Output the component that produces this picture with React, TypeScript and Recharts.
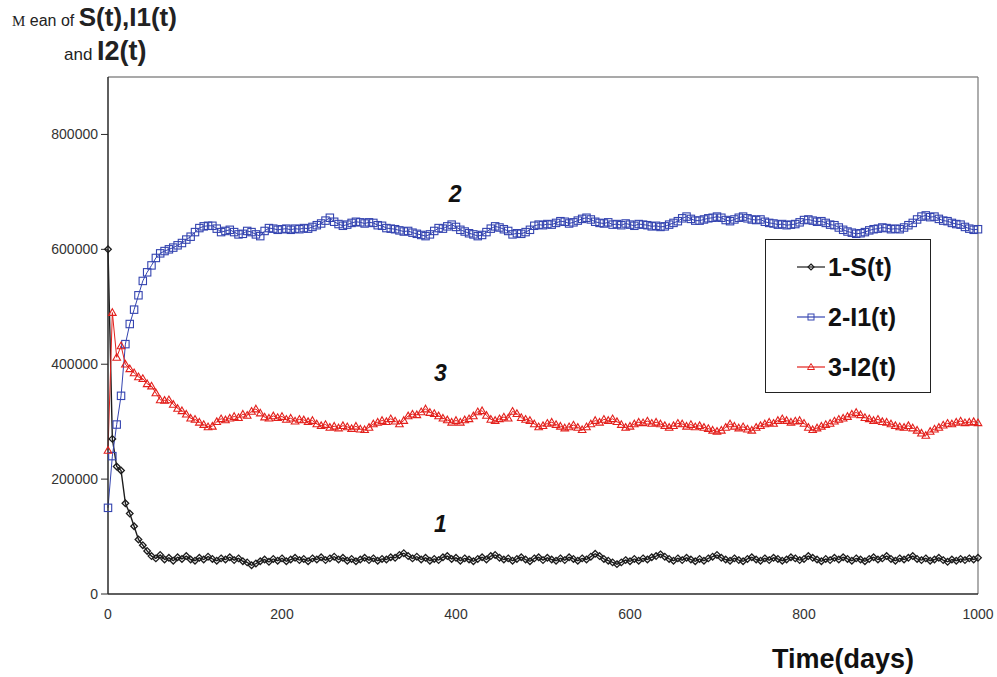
import React from 'react';
import { LineChart, Line, XAxis, YAxis, Legend, ReferenceLine, ReferenceDot } from 'recharts';

// Time (days)
const days = [
  0, 5, 10, 15, 20, 25, 30, 35, 40, 45, 50, 55, 60, 65, 70, 75, 80, 85, 90, 95,
  100, 105, 110, 115, 120, 125, 130, 135, 140, 145, 150, 155, 160, 165, 170, 175, 180, 185, 190, 195,
  200, 205, 210, 215, 220, 225, 230, 235, 240, 245, 250, 255, 260, 265, 270, 275, 280, 285, 290, 295,
  300, 305, 310, 315, 320, 325, 330, 335, 340, 345, 350, 355, 360, 365, 370, 375, 380, 385, 390, 395,
  400, 405, 410, 415, 420, 425, 430, 435, 440, 445, 450, 455, 460, 465, 470, 475, 480, 485, 490, 495,
  500, 505, 510, 515, 520, 525, 530, 535, 540, 545, 550, 555, 560, 565, 570, 575, 580, 585, 590, 595,
  600, 605, 610, 615, 620, 625, 630, 635, 640, 645, 650, 655, 660, 665, 670, 675, 680, 685, 690, 695,
  700, 705, 710, 715, 720, 725, 730, 735, 740, 745, 750, 755, 760, 765, 770, 775, 780, 785, 790, 795,
  800, 805, 810, 815, 820, 825, 830, 835, 840, 845, 850, 855, 860, 865, 870, 875, 880, 885, 890, 895,
  900, 905, 910, 915, 920, 925, 930, 935, 940, 945, 950, 955, 960, 965, 970, 975, 980, 985, 990, 995,
  1000,
];

// 1-S(t)
const sValues = [
  600000, 270000, 222000, 215000, 158000, 140000, 118000, 95000, 85000, 75000,
  66000, 62000, 68000, 60000, 63000, 58000, 64000, 61000, 66000, 60000,
  58000, 63000, 60000, 65000, 61000, 58000, 62000, 60000, 64000, 59000,
  62000, 57000, 55000, 50000, 53000, 57000, 60000, 56000, 61000, 58000,
  62000, 57000, 60000, 63000, 59000, 61000, 57000, 62000, 60000, 64000,
  59000, 62000, 65000, 60000, 63000, 58000, 61000, 57000, 60000, 63000,
  59000, 62000, 58000, 61000, 60000, 64000, 63000, 68000, 71000, 66000,
  62000, 65000, 60000, 63000, 58000, 61000, 59000, 64000, 66000, 61000,
  63000, 58000, 62000, 60000, 57000, 61000, 64000, 60000, 66000, 68000,
  63000, 60000, 62000, 58000, 61000, 64000, 60000, 57000, 62000, 64000,
  59000, 63000, 60000, 58000, 62000, 59000, 64000, 61000, 58000, 62000,
  60000, 65000, 70000, 66000, 61000, 58000, 55000, 52000, 55000, 59000,
  57000, 61000, 58000, 62000, 60000, 64000, 66000, 69000, 65000, 61000,
  58000, 62000, 59000, 63000, 60000, 57000, 61000, 58000, 62000, 65000,
  68000, 63000, 60000, 58000, 62000, 59000, 57000, 61000, 64000, 60000,
  58000, 62000, 59000, 63000, 61000, 58000, 60000, 64000, 62000, 59000,
  61000, 66000, 63000, 60000, 57000, 61000, 59000, 63000, 60000, 64000,
  61000, 58000, 62000, 60000, 57000, 61000, 64000, 60000, 62000, 66000,
  61000, 58000, 62000, 60000, 63000, 66000, 61000, 59000, 62000, 58000,
  60000, 63000, 59000, 56000, 60000, 58000, 61000, 59000, 62000, 60000,
  63000,
];

// 2-I1(t)
const i1Values = [
  150000, 240000, 295000, 345000, 435000, 470000, 495000, 520000, 545000, 560000,
  572000, 585000, 593000, 597000, 600000, 603000, 607000, 611000, 617000, 622000,
  630000, 637000, 640000, 641000, 641000, 636000, 630000, 632000, 634000, 630000,
  626000, 627000, 632000, 630000, 626000, 623000, 632000, 637000, 636000, 634000,
  635000, 636000, 634000, 636000, 635000, 637000, 636000, 639000, 642000, 645000,
  650000, 655000, 648000, 644000, 641000, 643000, 646000, 648000, 647000, 645000,
  647000, 646000, 642000, 641000, 637000, 636000, 635000, 633000, 631000, 632000,
  629000, 627000, 625000, 623000, 626000, 632000, 637000, 636000, 640000, 643000,
  639000, 634000, 631000, 628000, 626000, 623000, 625000, 630000, 636000, 640000,
  638000, 635000, 632000, 626000, 628000, 627000, 630000, 634000, 641000, 643000,
  642000, 644000, 643000, 646000, 649000, 648000, 645000, 647000, 650000, 653000,
  655000, 652000, 648000, 646000, 645000, 647000, 643000, 644000, 642000, 645000,
  643000, 641000, 644000, 643000, 642000, 640000, 641000, 639000, 640000, 643000,
  646000, 649000, 654000, 657000, 653000, 650000, 650000, 652000, 654000, 655000,
  657000, 655000, 651000, 649000, 652000, 655000, 657000, 654000, 652000, 651000,
  652000, 648000, 646000, 645000, 643000, 644000, 642000, 643000, 644000, 647000,
  651000, 652000, 650000, 648000, 649000, 646000, 643000, 642000, 638000, 634000,
  631000, 629000, 627000, 628000, 630000, 633000, 635000, 636000, 638000, 637000,
  635000, 636000, 635000, 638000, 642000, 646000, 652000, 657000, 659000, 656000,
  657000, 653000, 650000, 649000, 646000, 644000, 643000, 639000, 636000, 634000,
  635000,
];

// 3-I2(t)
const i2Values = [
  250000, 490000, 412000, 432000, 400000, 392000, 385000, 378000, 375000, 366000,
  362000, 350000, 338000, 337000, 338000, 330000, 323000, 319000, 313000, 306000,
  304000, 299000, 295000, 291000, 292000, 300000, 305000, 303000, 306000, 309000,
  307000, 313000, 311000, 318000, 322000, 315000, 308000, 306000, 310000, 307000,
  309000, 304000, 306000, 301000, 304000, 303000, 300000, 302000, 296000, 293000,
  295000, 290000, 292000, 289000, 293000, 291000, 288000, 292000, 287000, 286000,
  290000, 296000, 299000, 302000, 300000, 305000, 301000, 296000, 302000, 310000,
  313000, 312000, 317000, 322000, 316000, 314000, 310000, 306000, 303000, 299000,
  302000, 299000, 303000, 305000, 310000, 317000, 319000, 311000, 304000, 302000,
  305000, 308000, 306000, 318000, 314000, 307000, 304000, 302000, 296000, 291000,
  293000, 297000, 299000, 295000, 292000, 289000, 291000, 294000, 290000, 286000,
  291000, 296000, 302000, 299000, 304000, 302000, 305000, 300000, 295000, 290000,
  292000, 296000, 299000, 298000, 301000, 297000, 299000, 296000, 293000, 290000,
  293000, 297000, 296000, 292000, 295000, 291000, 293000, 290000, 288000, 285000,
  283000, 285000, 290000, 296000, 292000, 289000, 291000, 287000, 285000, 290000,
  293000, 296000, 299000, 297000, 302000, 305000, 302000, 299000, 301000, 302000,
  297000, 290000, 286000, 289000, 292000, 295000, 297000, 301000, 304000, 306000,
  309000, 313000, 316000, 312000, 307000, 305000, 302000, 304000, 300000, 299000,
  296000, 293000, 291000, 290000, 293000, 289000, 285000, 280000, 276000, 283000,
  287000, 290000, 294000, 297000, 296000, 299000, 301000, 298000, 299000, 300000,
  298000,
];

const xTicks = [0, 200, 400, 600, 800, 1000];
const yTicks = [0, 200000, 400000, 600000, 800000];

const seriesNames = ['1-S(t)', '2-I1(t)', '3-I2(t)'];
const seriesColors = ['#1c1c1c', '#3444b0', '#e3201c'];

// Curve number annotations: [label, day, value]
const annotationLabels = ['2', '3', '1'];
const annotationDays = [399, 382, 382];
const annotationValues = [696000, 385000, 123000];

const rows = days.map((t, i) => ({ t, s: sValues[i], i1: i1Values[i], i2: i2Values[i] }));

const FONT = '"Liberation Sans", Arial, sans-serif';

const diamondDot = (color: string, s: number) => (props: any) => {
  const { cx, cy, index } = props;
  if (cx == null || cy == null) return <g key={index} />;
  return (
    <path
      key={index}
      d={`M${cx},${cy - s}L${cx + s},${cy}L${cx},${cy + s}L${cx - s},${cy}Z`}
      fill="none"
      stroke={color}
      strokeWidth={1.3}
    />
  );
};

const squareDot = (color: string, s: number) => (props: any) => {
  const { cx, cy, index } = props;
  if (cx == null || cy == null) return <g key={index} />;
  return <rect key={index} x={cx - s} y={cy - s} width={2 * s} height={2 * s} fill="none" stroke={color} strokeWidth={1.1} />;
};

const triangleDot = (color: string, s: number) => (props: any) => {
  const { cx, cy, index } = props;
  if (cx == null || cy == null) return <g key={index} />;
  return (
    <path
      key={index}
      d={`M${cx},${cy - s}L${cx + s},${cy + s * 0.75}L${cx - s},${cy + s * 0.75}Z`}
      fill="none"
      stroke={color}
      strokeWidth={1.1}
    />
  );
};

const legendIcon = (i: number) => {
  const c = seriesColors[i];
  const line = <line x1={0} y1={8} x2={28} y2={8} stroke={c} strokeWidth={1.2} />;
  let mark;
  if (i === 0) mark = <path d="M14,5L17,8L14,11L11,8Z" fill="none" stroke={c} strokeWidth={1.2} />;
  else if (i === 1) mark = <rect x={11} y={5} width={6} height={6} fill="none" stroke={c} strokeWidth={1} />;
  else mark = <path d="M14,4.5L17.5,10.5L10.5,10.5Z" fill="none" stroke={c} strokeWidth={1} />;
  return (
    <svg width={28} height={16} style={{ position: 'absolute', left: 31, top: -8 }}>
      {line}
      {mark}
    </svg>
  );
};

const LegendBox = () => (
  <div
    style={{
      position: 'relative',
      width: 166,
      height: 154,
      boxSizing: 'border-box',
      border: '1.5px solid #222',
      background: '#fff',
    }}
  >
    {seriesNames.map((name, i) => (
      <div key={name} style={{ position: 'absolute', left: 0, top: 27 + i * 50, width: 166, height: 0 }}>
        {legendIcon(i)}
        <span
          style={{
            position: 'absolute',
            left: 62,
            top: -15,
            fontFamily: FONT,
            fontWeight: 'bold',
            fontSize: 25,
            lineHeight: '30px',
            color: '#111',
            whiteSpace: 'nowrap',
          }}
        >
          {name}
        </span>
      </div>
    ))}
  </div>
);

export default function App() {
  return (
    <div style={{ position: 'absolute', left: 0, top: 0, width: 997, height: 677, background: '#fff' }}>
      <LineChart width={997} height={677} data={rows} margin={{ top: 77, right: 19, bottom: 53, left: 48 }}>
        <XAxis
          dataKey="t"
          type="number"
          domain={[0, 1000]}
          ticks={xTicks}
          tickLine={false}
          tickSize={6}
          tickMargin={9}
          height={30}
          axisLine={{ stroke: '#2a2a2a', strokeWidth: 1.5 }}
          tick={{ fontSize: 14, fill: '#333', fontFamily: FONT }}
          interval={0}
        />
        <YAxis
          type="number"
          domain={[0, 900000]}
          ticks={yTicks}
          tickSize={7}
          tickMargin={3}
          width={60}
          axisLine={{ stroke: '#2a2a2a', strokeWidth: 1.5 }}
          tickLine={{ stroke: '#2a2a2a' }}
          tick={{ fontSize: 14, fill: '#333', fontFamily: FONT }}
          interval={0}
        />
        <ReferenceLine y={900000} stroke="#555" strokeWidth={1.2} />
        <ReferenceLine x={1000} stroke="#777" strokeWidth={1.2} />
        <Line
          type="linear"
          dataKey="s"
          name={seriesNames[0]}
          stroke={seriesColors[0]}
          strokeWidth={1.4}
          dot={diamondDot(seriesColors[0], 3.3)}
          isAnimationActive={false}
        />
        <Line
          type="linear"
          dataKey="i1"
          name={seriesNames[1]}
          stroke={seriesColors[1]}
          strokeWidth={1}
          dot={squareDot(seriesColors[1], 3.7)}
          isAnimationActive={false}
        />
        <Line
          type="linear"
          dataKey="i2"
          name={seriesNames[2]}
          stroke={seriesColors[2]}
          strokeWidth={1}
          dot={triangleDot(seriesColors[2], 3.8)}
          isAnimationActive={false}
        />
        {annotationLabels.map((lab, i) => (
          <ReferenceDot
            key={lab}
            x={annotationDays[i]}
            y={annotationValues[i]}
            r={0}
            fill="none"
            stroke="none"
            label={{
              value: lab,
              position: 'center',
              fontSize: 23,
              fontWeight: 'bold',
              fontStyle: 'italic',
              fill: '#111',
              fontFamily: FONT,
            }}
          />
        ))}
        <Legend
          layout="vertical"
          align="center"
          verticalAlign="middle"
          content={() => <LegendBox />}
          wrapperStyle={{ left: 765, top: 239, width: 166, height: 154 }}
        />
      </LineChart>
      <div style={{ position: 'absolute', left: 12, top: 4, whiteSpace: 'nowrap', color: '#222', lineHeight: 1 }}>
        <span style={{ fontFamily: '"Liberation Serif", serif', fontSize: 15 }}>M</span>
        <span style={{ fontFamily: FONT, fontSize: 16 }}> ean of </span>
        <span style={{ fontFamily: FONT, fontSize: 26, fontWeight: 'bold' }}>S(t),I1(t)</span>
      </div>
      <div style={{ position: 'absolute', left: 64, top: 38, whiteSpace: 'nowrap', color: '#222', lineHeight: 1 }}>
        <span style={{ fontFamily: FONT, fontSize: 17 }}>and </span>
        <span style={{ fontFamily: FONT, fontSize: 27, fontWeight: 'bold' }}>I2(t)</span>
      </div>
      <div
        style={{
          position: 'absolute',
          left: 772,
          top: 646,
          whiteSpace: 'nowrap',
          color: '#111',
          fontFamily: FONT,
          fontSize: 27,
          fontWeight: 'bold',
          lineHeight: 1,
        }}
      >
        Time(days)
      </div>
    </div>
  );
}
